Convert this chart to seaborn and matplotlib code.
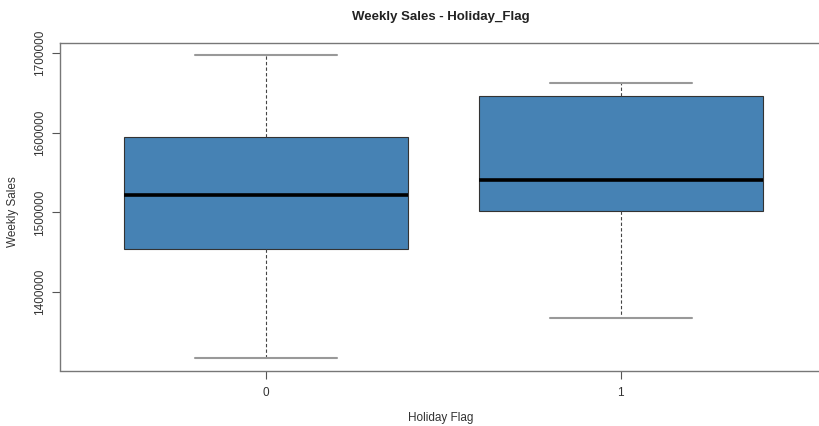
import numpy as np
import pandas as pd
import matplotlib
matplotlib.use("Agg")
import matplotlib.pyplot as plt
import seaborn as sns

# Five-number summaries of weekly sales by holiday flag
flags = ["0", "1"]
whisker_low = [1317000, 1367500]
q1 = [1454500, 1502000]
median = [1522000, 1540500]
q3 = [1594500, 1645500]
whisker_high = [1697000, 1662000]

yticks = [1400000, 1500000, 1600000, 1700000]

rows = []
for i, f in enumerate(flags):
    for v in (whisker_low[i], q1[i], median[i], q3[i], whisker_high[i]):
        rows.append({"Holiday Flag": f, "Weekly Sales": v})
df = pd.DataFrame(rows)

sns.set_style("white")
plt.rcParams["font.family"] = ["Liberation Sans", "DejaVu Sans"]

W, H = 820, 426
fig = plt.figure(figsize=(W / 100, H / 100), dpi=100)
left, right, top, bottom = 60, 826.5, 43, 370.5
ax = fig.add_axes([left / W, 1 - bottom / H, (right - left) / W, (bottom - top) / H])

sns.boxplot(
    data=df, x="Holiday Flag", y="Weekly Sales", order=flags,
    color="steelblue", saturation=1, width=0.8, whis=1.5, ax=ax,
    boxprops=dict(edgecolor="#333333", linewidth=0.8),
    medianprops=dict(color="black", linewidth=2.6),
    whiskerprops=dict(color="#444444", linewidth=0.8, linestyle=(0, (3, 2))),
    capprops=dict(color="#999999", linewidth=1.5),
    showfliers=False,
    capwidths=0.4,
)

ax.set_xlim(-0.58, 1.58)
lo, hi = min(whisker_low), max(whisker_high)
pad = 0.04 * (hi - lo)
ax.set_ylim(lo - pad, hi + pad)

ax.set_yticks(yticks)
ax.set_yticklabels([str(t) for t in yticks], rotation=90, va="center", fontsize=8.5, color="#333333")
ax.set_xticks([0, 1])
ax.set_xticklabels(flags, fontsize=8.5, color="#333333")
ax.tick_params(axis="both", direction="out", length=6, width=0.8, color="#555555", pad=4,
               left=True, bottom=True)
ax.tick_params(axis="x", pad=6)

for s in ax.spines.values():
    s.set_visible(True)
    s.set_color("#777777")
    s.set_linewidth(1.0)

ax.set_xlabel("")
ax.set_ylabel("")
fig.text(441 / W, 1 - 418 / H, "Holiday Flag", ha="center", va="center",
         fontsize=8.5, color="#333333")
fig.text(13 / W, 1 - 212 / H, "Weekly Sales", ha="center", va="center", rotation=90,
         fontsize=8.5, color="#333333")
fig.text(441 / W, 1 - 17 / H, "Weekly Sales - Holiday_Flag", ha="center", va="center",
         fontsize=9.5, fontweight="bold", color="#222222")

fig.savefig("out.png", dpi=100)
